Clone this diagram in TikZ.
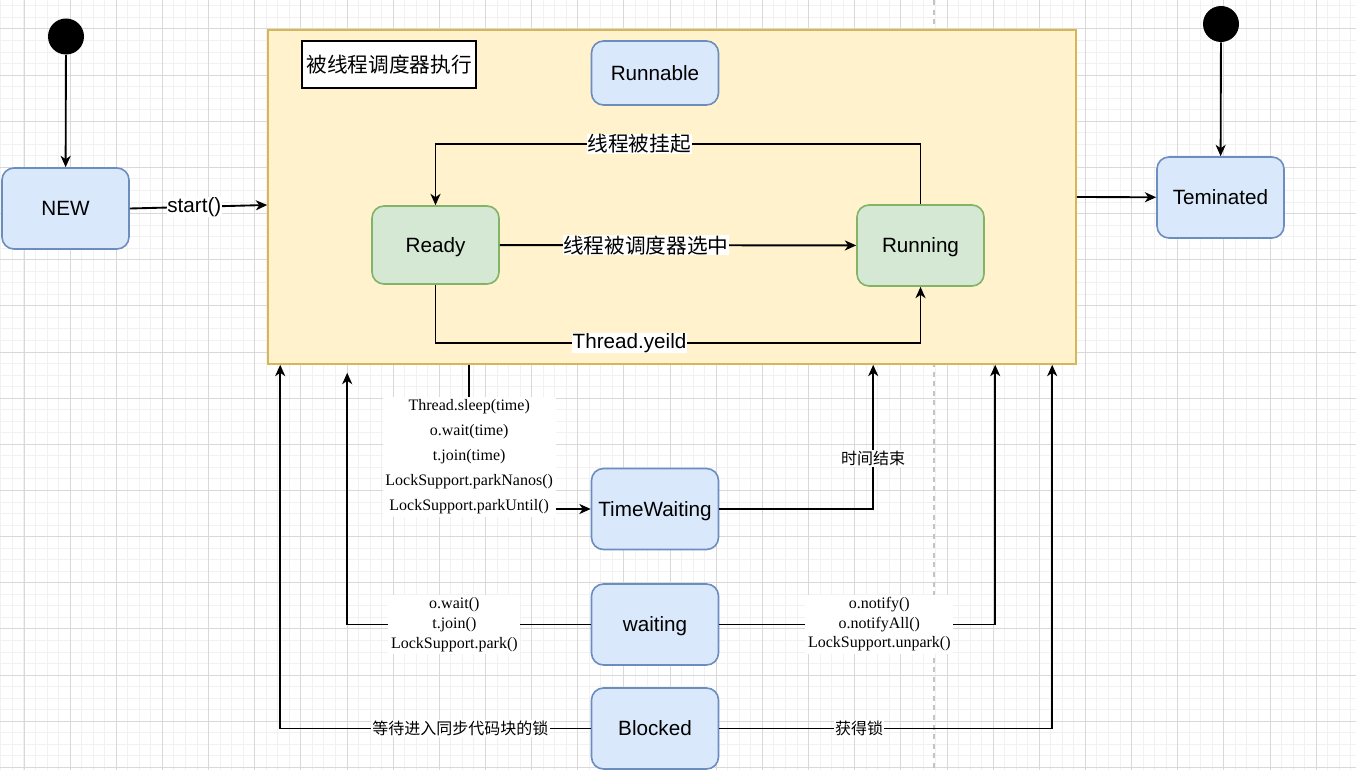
\documentclass[tikz,border=0pt]{standalone}
\usepackage{fontspec}
\setmainfont{Liberation Sans}
\newfontfamily\cjk{Noto Sans CJK SC}
\newfontfamily\serif{Liberation Serif}
\usetikzlibrary{arrows.meta,calc}
\definecolor{bluefill}{HTML}{DAE8FC}
\definecolor{blueline}{HTML}{6C8EBF}
\definecolor{greenfill}{HTML}{D5E8D4}
\definecolor{greenline}{HTML}{82B366}
\definecolor{yellowfill}{HTML}{FFF2CC}
\definecolor{yellowline}{HTML}{D6B656}
\definecolor{gridmajor}{HTML}{D9D9D9}
\definecolor{gridminor}{HTML}{F1F1F1}
\definecolor{dashgray}{HTML}{C4C4C4}
\tikzstyle{stbox}=[rectangle, rounded corners=9pt, minimum width=95.25pt, minimum height=60.75pt, text centered, text height=12pt, text depth=1.2pt, draw=blueline, fill=bluefill, line width=1.2pt, font=\fontsize{15.5}{18}\selectfont]
\tikzstyle{active}=[stbox, draw=greenline, fill=greenfill]
\tikzstyle{dot}=[circle, fill=black, minimum size=27pt, inner sep=0pt]
\tikzstyle{arrow}=[line width=1.4pt, ->, >={Stealth[length=8.5pt,width=7.5pt,inset=2.5pt]}]
\tikzstyle{biglabel}=[fill=white, inner sep=0.5pt, font=\fontsize{15.5}{18}\selectfont]
\tikzstyle{smalllabel}=[fill=white, inner sep=1pt, font=\cjk\fontsize{12}{14}\selectfont]
\tikzstyle{codelabel}=[fill=white, inner sep=2pt, align=center, font=\serif\fontsize{12}{15}\selectfont]

\begin{document}
\begin{tikzpicture}[x=0.75pt, y=-0.75pt]
\useasboundingbox (0,0) rectangle (1356,770);

\foreach \k in {0,...,117} \draw[gridminor, line width=0.75pt]({0.92+11.5375*\k},0)--++(0,770);
\foreach \k in {0,...,66} \draw[gridminor, line width=0.75pt](0,{5.92+11.5375*\k})--++(1356,0);
\foreach \k in {0,...,29} \draw[gridmajor, line width=0.75pt]({24+46.15*\k},0)--++(0,770);
\foreach \k in {0,...,16} \draw[gridmajor, line width=0.75pt](0,{29+46.15*\k})--++(1356,0);
\draw[dashgray, line width=1.1pt, dash pattern=on 3.75pt off 3.4pt](934,0)--(934,770);

\node(sched)[rectangle, minimum width=606pt, minimum height=250.5pt, draw=yellowline, fill=yellowfill, line width=1.2pt] at (672,197){};
\node(title)[rectangle, minimum width=130.5pt, minimum height=35.25pt, draw=black, fill=white, line width=1.2pt, font=\cjk\fontsize{15.5}{18}\selectfont] at (389,64.5){被线程调度器执行};

\node(dotA)[dot] at (66,36.5){};
\node(new)[stbox] at (65.5,208.5){NEW};
\node(runnable)[stbox, minimum height=48pt] at (655,73){Runnable};
\node(rdy)[active, minimum height=58.5pt] at (435.5,245){Ready};
\node(run)[active] at (920.5,245.5){Running};
\node(term)[stbox] at (1220.5,197.5){Teminated};
\node(dotB)[dot] at (1221,24){};
\node(tw)[stbox] at (655,509){TimeWaiting};
\node(wt)[stbox] at (655,624.5){waiting};
\node(blk)[stbox] at (655,728.5){Blocked};

\coordinate(twOut) at ($(sched.south west)+(202,0)$);
\coordinate(twBack) at ($(sched.south west)+(606,0)$);
\coordinate(wtIn) at ($(sched.south west)+(80,8)$);
\coordinate(wtOut) at ($(sched.south west)+(728,0)$);
\coordinate(blkIn) at ($(sched.south west)+(13,0)$);
\coordinate(blkOut) at ($(sched.south west)+(785,0)$);

\draw[arrow](dotA)--(new);
\draw[arrow](new.east)--node[biglabel, pos=0.47]{start()}([yshift=-6pt]sched.west);
\draw[arrow](sched.east)--(term);
\draw[arrow](dotB)--(term);

\draw[arrow](rdy)--node[biglabel, pos=0.41]{\cjk 线程被调度器选中}(run);
\draw[arrow](run.north)--++(0,-60)-|node[biglabel, pos=0.29]{\cjk 线程被挂起}(rdy.north);
\draw[arrow](rdy.south)--++(0,58)-|node[biglabel, pos=0.2]{Thread.yeild}(run.south);

\draw[arrow](twOut)|-node[codelabel, pos=0.32, font=\serif\fontsize{12}{18.75}\selectfont]{Thread.sleep(time)\\o.wait(time)\\t.join(time)\\LockSupport.parkNanos()\\LockSupport.parkUntil()}(tw);
\draw[arrow](tw)-|node[smalllabel, pos=0.676]{时间结束}(twBack);
\draw[arrow](wt)-|node[codelabel, pos=0.28]{o.wait()\\t.join()\\LockSupport.park()}(wtIn);
\draw[arrow](wt)-|node[codelabel, pos=0.29, font=\serif\fontsize{12}{14.6}\selectfont]{o.notify()\\o.notifyAll()\\LockSupport.unpark()}(wtOut);
\draw[arrow](blk)-|node[smalllabel, pos=0.21]{等待进入同步代码块的锁}(blkIn);
\draw[arrow](blk)-|node[smalllabel, pos=0.21]{获得锁}(blkOut);

\end{tikzpicture}
\end{document}
